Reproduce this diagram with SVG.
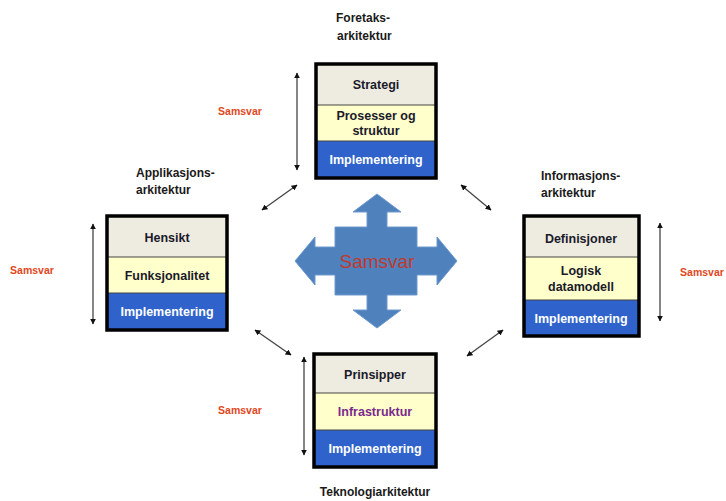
<svg xmlns="http://www.w3.org/2000/svg" width="726" height="501" viewBox="0 0 726 501">
<defs>
<marker id="ah" viewBox="0 0 10 10" refX="9" refY="5" markerWidth="6" markerHeight="6" orient="auto-start-reverse" markerUnits="userSpaceOnUse"><path d="M0,0 L10,5 L0,10 z" fill="#111"/></marker>
<style>
text{font-family:"Liberation Sans",Arial,sans-serif;font-weight:bold}
.t{font-size:12px;fill:#1a1a1a}
.s{font-size:10.5px;fill:#e2471c}
.c{font-size:12.5px;fill:#1a1a2a;text-anchor:middle}
.w{font-size:12.5px;fill:#ffffff;text-anchor:middle}
.g{fill:#eeece1}
.y{fill:#ffffcc}
.b{fill:#2f63cb}
.fr{fill:none;stroke:#000;stroke-width:3.5}
.dv{stroke:#444;stroke-width:1}
.con{stroke:#444;stroke-width:1.3;fill:none}
</style>
</defs>
<rect width="726" height="501" fill="#fff"/>

<g id="center">
<path d="M377,194 L401,212 L387,212 L387,227 L417,227 L417,247 L437,247 L437,237 L457,261 L437,285 L437,275 L417,275 L417,295 L387,295 L387,310 L401,310 L377,328 L353,310 L367,310 L367,295 L335,295 L335,275 L315,275 L315,285 L295,261 L315,237 L315,247 L335,247 L335,227 L367,227 L367,212 L353,212 Z" fill="#4f81bd" stroke="#6f99cf" stroke-width="1"/>
<text x="377" y="268" text-anchor="middle" style="font-size:19px;font-weight:normal;fill:#c0392b">Samsvar</text>
</g>

<g id="top">
<text class="t" x="336" y="22">Foretaks-</text>
<text class="t" x="337" y="40">arkitektur</text>
<rect class="g" x="316" y="64" width="120" height="41"/>
<rect class="y" x="316" y="105" width="120" height="36"/>
<rect class="b" x="316" y="141" width="120" height="37"/>
<line class="dv" x1="316" y1="105" x2="436" y2="105"/>
<line class="dv" x1="316" y1="141" x2="436" y2="141"/>
<rect class="fr" x="316" y="64" width="120" height="114"/>
<text class="c" x="376" y="89">Strategi</text>
<text class="c" x="376" y="120">Prosesser og</text>
<text class="c" x="376" y="135">struktur</text>
<text class="w" x="376" y="164">Implementering</text>
</g>

<g id="left">
<text class="t" x="136" y="177">Applikasjons-</text>
<text class="t" x="136" y="194">arkitektur</text>
<rect class="g" x="107" y="216" width="120" height="41"/>
<rect class="y" x="107" y="257" width="120" height="36"/>
<rect class="b" x="107" y="293" width="120" height="37"/>
<line class="dv" x1="107" y1="257" x2="227" y2="257"/>
<line class="dv" x1="107" y1="293" x2="227" y2="293"/>
<rect class="fr" x="107" y="216" width="120" height="114"/>
<text class="c" x="167" y="242">Hensikt</text>
<text class="c" x="167" y="280">Funksjonalitet</text>
<text class="w" x="167" y="316">Implementering</text>
</g>

<g id="right">
<text class="t" x="541" y="180">Informasjons-</text>
<text class="t" x="541" y="197">arkitektur</text>
<rect class="g" x="524" y="216" width="115" height="41"/>
<rect class="y" x="524" y="257" width="115" height="43"/>
<rect class="b" x="524" y="300" width="115" height="36"/>
<line class="dv" x1="524" y1="257" x2="639" y2="257"/>
<line class="dv" x1="524" y1="300" x2="639" y2="300"/>
<rect class="fr" x="524" y="216" width="115" height="120"/>
<text class="c" x="581" y="243">Definisjoner</text>
<text class="c" x="581" y="275">Logisk</text>
<text class="c" x="581" y="291">datamodell</text>
<text class="w" x="581" y="323">Implementering</text>
</g>

<g id="bottom">
<rect class="g" x="314" y="354" width="122" height="39"/>
<rect class="y" x="314" y="393" width="122" height="37"/>
<rect class="b" x="314" y="430" width="122" height="37"/>
<line class="dv" x1="314" y1="393" x2="436" y2="393"/>
<line class="dv" x1="314" y1="430" x2="436" y2="430"/>
<rect class="fr" x="314" y="354" width="122" height="113"/>
<text class="c" x="375" y="379">Prinsipper</text>
<text class="c" x="375" y="416" style="fill:#7a2a8c">Infrastruktur</text>
<text class="w" x="375" y="453">Implementering</text>
<text class="t" x="375" y="496" text-anchor="middle">Teknologiarkitektur</text>
</g>

<g id="samsvar-labels">
<text class="s" x="240" y="115" text-anchor="middle">Samsvar</text>
<text class="s" x="32" y="274" text-anchor="middle">Samsvar</text>
<text class="s" x="702" y="276" text-anchor="middle">Samsvar</text>
<text class="s" x="240" y="414" text-anchor="middle">Samsvar</text>
</g>

<g id="connectors">
<line class="con" x1="297" y1="73" x2="297" y2="170" marker-start="url(#ah)" marker-end="url(#ah)"/>
<line class="con" x1="93" y1="224" x2="93" y2="324" marker-start="url(#ah)" marker-end="url(#ah)"/>
<line class="con" x1="660" y1="223" x2="660" y2="321" marker-start="url(#ah)" marker-end="url(#ah)"/>
<line class="con" x1="304" y1="357" x2="304" y2="455" marker-start="url(#ah)" marker-end="url(#ah)"/>
<line class="con" x1="262" y1="210" x2="297" y2="185" marker-start="url(#ah)" marker-end="url(#ah)"/>
<line class="con" x1="461" y1="185" x2="491" y2="210" marker-start="url(#ah)" marker-end="url(#ah)"/>
<line class="con" x1="255" y1="330" x2="291" y2="355" marker-start="url(#ah)" marker-end="url(#ah)"/>
<line class="con" x1="467" y1="356" x2="503" y2="330" marker-start="url(#ah)" marker-end="url(#ah)"/>
</g>
</svg>
